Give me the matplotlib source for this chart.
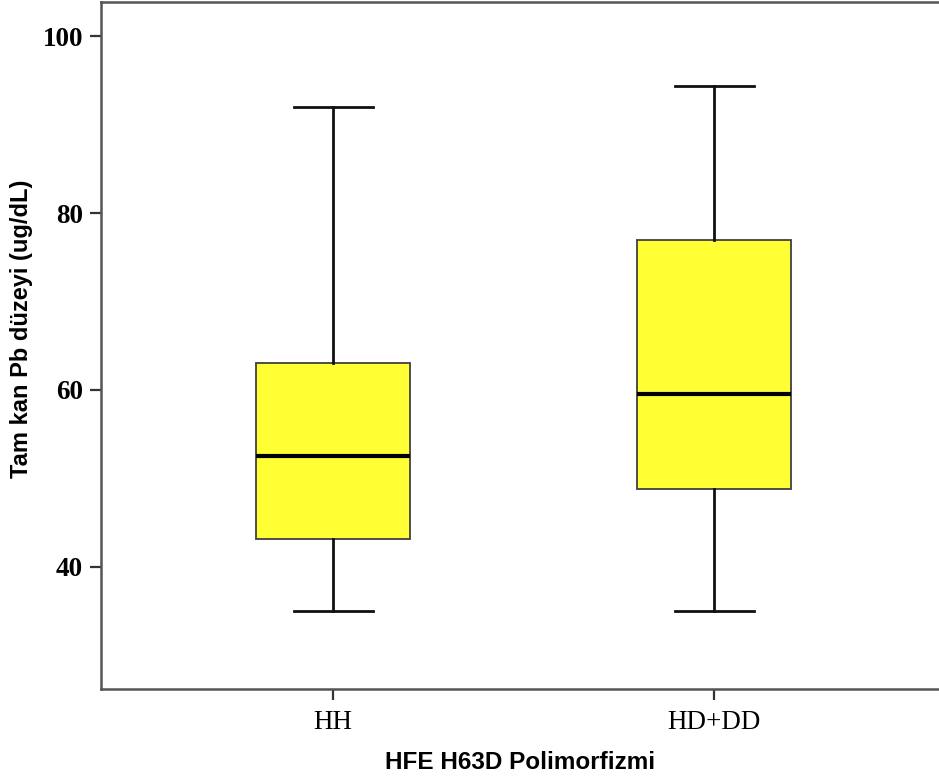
import matplotlib.pyplot as plt

# Values
groups = ['HH', 'HD+DD']
whislo = [35.0, 35.0]
q1 = [43.2, 48.8]
med = [52.5, 59.5]
q3 = [63.0, 77.0]
whishi = [92.0, 94.4]

stats = []
for i, g in enumerate(groups):
    stats.append({'label': g, 'whislo': whislo[i], 'q1': q1[i], 'med': med[i],
                  'q3': q3[i], 'whishi': whishi[i], 'fliers': []})

fig = plt.figure(figsize=(9.39, 7.78), dpi=100)
ax = fig.add_axes([0.1076, 0.1144, 0.8924, 0.8830])

ax.bxp(stats, positions=[1, 2], widths=0.404, capwidths=0.207, patch_artist=True,
       showfliers=False,
       boxprops=dict(facecolor='#FFFF33', edgecolor='#404040', linewidth=1.3),
       whiskerprops=dict(color='#111111', linewidth=2.0),
       capprops=dict(color='#111111', linewidth=2.0),
       medianprops=dict(color='#000000', linewidth=3.0))

ax.set_xlim(0.391, 2.590)
ax.set_ylim(26.2, 103.85)
ax.set_yticks([40, 60, 80, 100])
ax.set_xticks([1, 2])
ax.set_xticklabels(groups, fontfamily='Liberation Serif', fontsize=19.5)
for lab in ax.get_yticklabels():
    lab.set_fontfamily('Liberation Serif')
    lab.set_fontweight('bold')
    lab.set_fontsize(19.5)

ax.tick_params(axis='both', direction='out', length=8, width=1.6, color='#333333', pad=7)
ax.tick_params(axis='y', pad=5)
for side in ['left', 'bottom', 'top']:
    ax.spines[side].set_color('#555555')
    ax.spines[side].set_linewidth(1.8)
ax.spines['right'].set_visible(False)

ax.set_ylabel('Tam kan Pb düzeyi (ug/dL)', fontfamily='Liberation Sans', fontweight='bold',
              fontsize=17)
ax.yaxis.set_label_coords(-0.081, 0.524)
ax.set_xlabel('HFE H63D Polimorfizmi', fontfamily='Liberation Sans', fontweight='bold',
              fontsize=17.5, labelpad=12)

fig.savefig('out.png', dpi=100)
